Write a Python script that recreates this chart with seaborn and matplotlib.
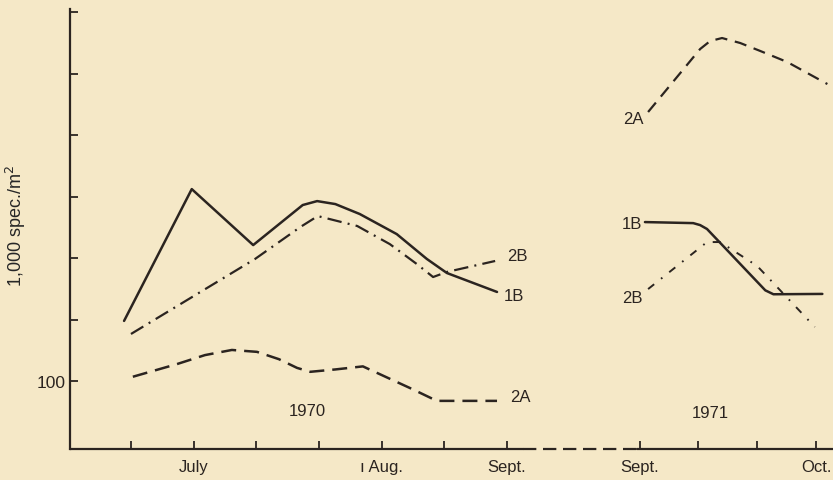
import matplotlib
matplotlib.use("Agg")
import matplotlib.pyplot as plt
import seaborn as sns
import pandas as pd

# Sampling positions (tick periods along the season) and densities
# in 1,000 specimens per m2.
ticks_1970 = [0, 1, 2, 3, 4, 5, 6]
ticks_1971 = [8.12, 9.05, 9.99, 10.93]
tick_labels_1970 = ["", "July", "", "", "ı Aug.", "", "Sept."]
tick_labels_1971 = ["Sept.", "", "", "Oct."]

x_1b_1970 = [-0.11, 0.97, 1.95, 2.74, 2.97, 3.26, 3.65, 4.24, 4.72, 5.04, 5.84]
y_1b_1970 = [197, 870, 463, 727, 760, 735, 657, 524, 396, 338, 273]

x_2b_1970 = [0.0, 1.98, 2.70, 2.98, 3.61, 4.13, 4.56, 4.82, 5.04, 5.81]
y_2b_1970 = [170, 396, 567, 642, 574, 468, 374, 323, 342, 387]

x_2a_1970 = [0.03, 0.73, 1.18, 1.61, 2.01, 2.36, 2.65, 2.86, 3.26, 3.70, 4.50, 4.88, 5.84]
y_2a_1970 = [105, 121, 134, 142, 139, 128, 116, 111, 114, 118, 91, 80, 80]

x_1b_1971 = [8.20, 8.97, 9.08, 9.19, 10.12, 10.25, 11.03]
y_1b_1971 = [600, 593, 580, 555, 278, 266, 267]

x_2b_1971 = [8.25, 9.19, 9.40, 9.99, 10.91]
y_2b_1971 = [282, 479, 479, 366, 184]

x_2a_1971 = [8.25, 9.08, 9.24, 9.43, 9.72, 10.04, 10.47, 11.11]
y_2a_1971 = [2074, 4217, 4615, 4774, 4513, 4125, 3643, 2843]

y_ticks = [100, 200, 400, 800, 1600, 3200, 6400]
y_tick_labels = ["100", "", "", "", "", "", ""]

paper = "#f5e8c7"
ink = "#2b2420"

sns.set_theme(style="ticks")
plt.rcParams["font.family"] = ["Liberation Sans", "DejaVu Sans"]
plt.rcParams["text.color"] = ink
plt.rcParams["axes.edgecolor"] = ink
plt.rcParams["xtick.color"] = ink
plt.rcParams["ytick.color"] = ink

fig = plt.figure(figsize=(8.33, 4.81), dpi=100, facecolor=paper)
ax = fig.add_axes([0.084, 0.0644, 0.916, 0.9148])
ax.set_facecolor(paper)

solid = "-"
dashed = (0, (6, 3.2))
dashdot = (0, (6.5, 2.8, 0.9, 2.8))
dashed71 = (0, (5.5, 3.5))
dashdot71 = (0, (4, 4.5, 0.9, 4.5))

series = [
    (x_1b_1970, y_1b_1970, solid, 1.8),
    (x_2b_1970, y_2b_1970, dashdot, 1.6),
    (x_2a_1970, y_2a_1970, dashed, 1.8),
    (x_1b_1971, y_1b_1971, solid, 1.8),
    (x_2b_1971, y_2b_1971, dashdot71, 1.4),
    (x_2a_1971, y_2a_1971, dashed71, 1.6),
]
for xs, ys, ls, lw in series:
    df = pd.DataFrame({"x": xs, "y": ys})
    sns.lineplot(data=df, x="x", y="y", ax=ax, color=ink, linewidth=lw,
                 linestyle=ls, sort=False, estimator=None)

ax.set_yscale("log")
ax.set_ylim(46.5, 6621)
ax.set_xlim(-0.973, 11.2)
ax.set_yticks(y_ticks)
ax.set_yticklabels(y_tick_labels)
ax.minorticks_off()
ax.set_xticks(ticks_1970 + ticks_1971)
ax.set_xticklabels(tick_labels_1970 + tick_labels_1971)
ax.tick_params(axis="both", direction="in", length=6, width=1.3, labelsize=12)
ax.tick_params(axis="x", pad=7)
ax.tick_params(axis="y", pad=3, labelsize=12.5)
ax.set_xlabel("")
ax.set_ylabel("1,000 spec./m$^2$", fontsize=13)
ax.yaxis.set_label_coords(-0.055, 0.509)

for side in ("top", "right", "bottom"):
    ax.spines[side].set_visible(False)
ax.spines["left"].set_linewidth(1.6)

# x axis drawn with a dashed break between the two seasons
trans = ax.get_xaxis_transform()
x0, x1 = ax.get_xlim()
brk_a = ticks_1970[-1] + 0.25
brk_b = ticks_1971[0] - 0.05
ax.plot([x0, brk_a], [0, 0], color=ink, lw=1.6, transform=trans, clip_on=False)
ax.plot([brk_a, brk_b], [0, 0], color=ink, lw=1.6, transform=trans,
        clip_on=False, linestyle=(0, (6, 3)))
ax.plot([brk_b, x1], [0, 0], color=ink, lw=1.6, transform=trans, clip_on=False)

# series labels
lab = dict(fontsize=12, va="center", textcoords="offset pixels", color=ink)
ax.annotate("2B", (x_2b_1970[-1], y_2b_1970[-1]), xytext=(12, 5), ha="left", **lab)
ax.annotate("1B", (x_1b_1970[-1], y_1b_1970[-1]), xytext=(7, -4), ha="left", **lab)
ax.annotate("2A", (x_2a_1970[-1], y_2a_1970[-1]), xytext=(13, 4), ha="left", **lab)
ax.annotate("2A", (x_2a_1971[0], y_2a_1971[0]), xytext=(-4, -6), ha="right", **lab)
ax.annotate("1B", (x_1b_1971[0], y_1b_1971[0]), xytext=(-3, -1), ha="right", **lab)
ax.annotate("2B", (x_2b_1971[0], y_2b_1971[0]), xytext=(-5, -8), ha="right", **lab)

# year captions
ax.text(2.82, 0.087, "1970", transform=trans, ha="center", va="center", fontsize=12)
ax.text(9.25, 0.084, "1971", transform=trans, ha="center", va="center", fontsize=12)

fig.savefig("out.png", dpi=100, facecolor=paper)
